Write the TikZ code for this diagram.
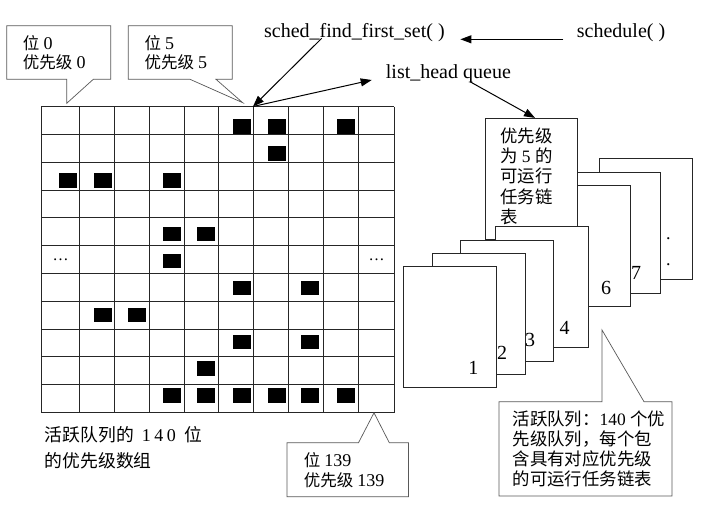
\documentclass[tikz,border=0pt]{standalone}
\usepackage{fontspec}
\setmainfont{Liberation Serif}
\newfontfamily\cjk{Noto Sans CJK SC}
\usetikzlibrary{arrows.meta}
\newcommand\dg[1]{{\fontsize{18}{20}\selectfont #1}}
\begin{document}
\begin{tikzpicture}[x=1pt,y=-1pt,
  gridl/.style={line width=0.9pt,draw=black!85},
  callout/.style={draw=black!65,line width=0.7pt,fill=white},
  card/.style={draw=black!85,line width=0.8pt,fill=white,minimum width=93pt,minimum height=121pt,inner sep=0pt},
  arr/.style={-{Triangle[length=11pt,width=8pt]},line width=1pt},
  lab/.style={font=\fontsize{20}{24}\selectfont,inner sep=0pt,anchor=base west},
  zht/.style={font=\fontsize{17.4}{20}\selectfont,inner sep=0pt,anchor=base west},
  zhs/.style={font=\fontsize{16.5}{20}\selectfont,inner sep=0pt,anchor=base west},
  num/.style={font=\fontsize{20}{24}\selectfont,inner sep=0pt}]
\useasboundingbox[fill=white] (0,0) rectangle (703,515);

% grid
\foreach \x in {41,79.3,114.3,149.3,184,218.7,253.3,288.3,323.3,358.3,394}
  \draw[gridl] (\x,106.7) -- (\x,412.5);
\foreach \i in {0,...,11}
  \draw[gridl] (41,{106.7+27.8*\i}) -- (394,{106.7+27.8*\i});
\foreach \r/\c in {0/5,0/6,0/8,1/6,2/0,2/1,2/3,4/3,4/4,5/3,6/5,6/7,7/1,7/2,8/5,8/7,9/4,10/3,10/4,10/5,10/6,10/7,10/8}{
  \pgfmathsetmacro\sx{{59,93.7,127.7,163.3,197.3,232.7,267.7,300.7,337}[\c]}
  \pgfmathsetmacro\sy{119.3+26.9*\r}
  \fill[black] (\sx,\sy) rectangle ++(18,14.5);
}
\node[font=\fontsize{16}{18}\selectfont,inner sep=0pt,anchor=base] (dl) at (60.5,260.5) {\ldots};
\node[font=\fontsize{16}{18}\selectfont,inner sep=0pt,anchor=base] (dr) at (376.5,260.5) {\ldots};
\coordinate (g5) at (253,106.5);

% callouts
\draw[callout] (6.7,25.7) -- (110.7,25.7) -- (110.7,79.3) -- (93.3,79.3) -- (66.7,103.3) -- (66.7,79.3) -- (6.7,79.3) -- cycle;
\node[zhs] (t0a) at (22.7,49) {{\cjk 位} \dg{0}};
\node[zhs] (t0b) at (22.7,68.6) {{\cjk 优先级} \dg{0}};

\draw[callout] (128.3,25.7) -- (232.3,25.7) -- (232.3,79.3) -- (216,79.3) -- (242.7,102.7) -- (190,79.3) -- (128.3,79.3) -- cycle;
\node[zhs] (t5a) at (144.3,49) {{\cjk 位} \dg{5}};
\node[zhs] (t5b) at (144.3,68.6) {{\cjk 优先级} \dg{5}};

\draw[callout] (287,442.7) -- (358.5,442.7) -- (374,412.8) -- (389.3,442.7) -- (408.5,442.7) -- (408.5,496.7) -- (287,496.7) -- cycle;
\node[zhs] (t139a) at (303.6,466) {{\cjk 位} \dg{139}};
\node[zhs] (t139b) at (303.6,486) {{\cjk 优先级} \dg{139}};

\draw[callout] (499,401.7) -- (602,401.7) -- (602,330) -- (644,401.7) -- (672,401.7) -- (672,496) -- (499,496) -- cycle;
\node[zht] (q1) at (512.5,425) {{\cjk 活跃队列：}140 {\cjk 个优}};
\node[zht] (q2) at (512.5,445) {\cjk 先级队列，每个包};
\node[zht] (q3) at (512.5,465) {\cjk 含具有对应优先级};
\node[zht] (q4) at (512.5,485) {\cjk 的可运行任务链表};

% bottom-left caption
\node[zht,font=\fontsize{17.8}{20}\selectfont] (cap1) at (44.6,441.5) {{\cjk 活跃队列的}\hspace{8pt}\dg{1\hspace{3.5pt}4\hspace{3.5pt}0}\hspace{9pt}{\cjk 位}};
\node[zht,font=\fontsize{17.8}{20}\selectfont] (cap2) at (44.6,467.5) {\cjk 的优先级数组};

% cards
\node[card] (c8) at (646,219.2) {};
\node[font=\fontsize{18}{20}\selectfont,inner sep=0pt,anchor=base] (d1) at (668.3,239) {.};
\node[font=\fontsize{18}{20}\selectfont,inner sep=0pt,anchor=base] (d2) at (668.3,265.7) {.};
\node[card] (c7) at (613.5,232.8) {};
\node[num] (n7) at (636,272.8) {7};
\node[card] (c6) at (583.5,246.3) {};
\node[num] (n6) at (606,287.7) {6};
\node[card,minimum width=92pt] (c5) at (531.7,178.8) {};
\node[zht] (l1) at (500,142) {\cjk 优先级};
\node[zht] (l2) at (500,162) {{\cjk 为} 5 {\cjk 的}};
\node[zht] (l3) at (500,182) {\cjk 可运行};
\node[zht] (l4) at (500,203) {\cjk 任务链};
\node[zht] (l5) at (500,223) {\cjk 表};
\node[card] (c4) at (541.7,287.2) {};
\node[num] (n4) at (564.7,327.5) {4};
\node[card] (c3) at (506.7,300.5) {};
\node[num] (n3) at (530,340) {3};
\node[card] (c2) at (478.7,313.8) {};
\node[num] (n2) at (502,353.3) {2};
\node[card] (c1) at (450,326.7) {};
\node[num] (n1) at (473.3,367.7) {1};

% labels
\node[lab] (sfs) at (264,37.7) {sched\_find\_first\_set( )};
\node[lab] (sch) at (576.7,37.7) {schedule( )};
\node[lab] (lhq) at (385.7,78.3) {list\_head queue};

% arrows
\draw[arr] ([xshift=-13.4pt,yshift=-1.6pt]sch.base west) -- ([xshift=15.5pt,yshift=-1.6pt]sfs.base east);
\draw[arr] ([xshift=57.7pt,yshift=-0.6pt]sfs.base west) -- (g5);
\draw[arr] (g5) -- ([xshift=-14pt,yshift=-1.7pt]lhq.base west);
\draw[arr] ([xshift=84.3pt,yshift=-3.4pt]lhq.base west) -- ([xshift=3.3pt]c5.north);
\end{tikzpicture}
\end{document}
